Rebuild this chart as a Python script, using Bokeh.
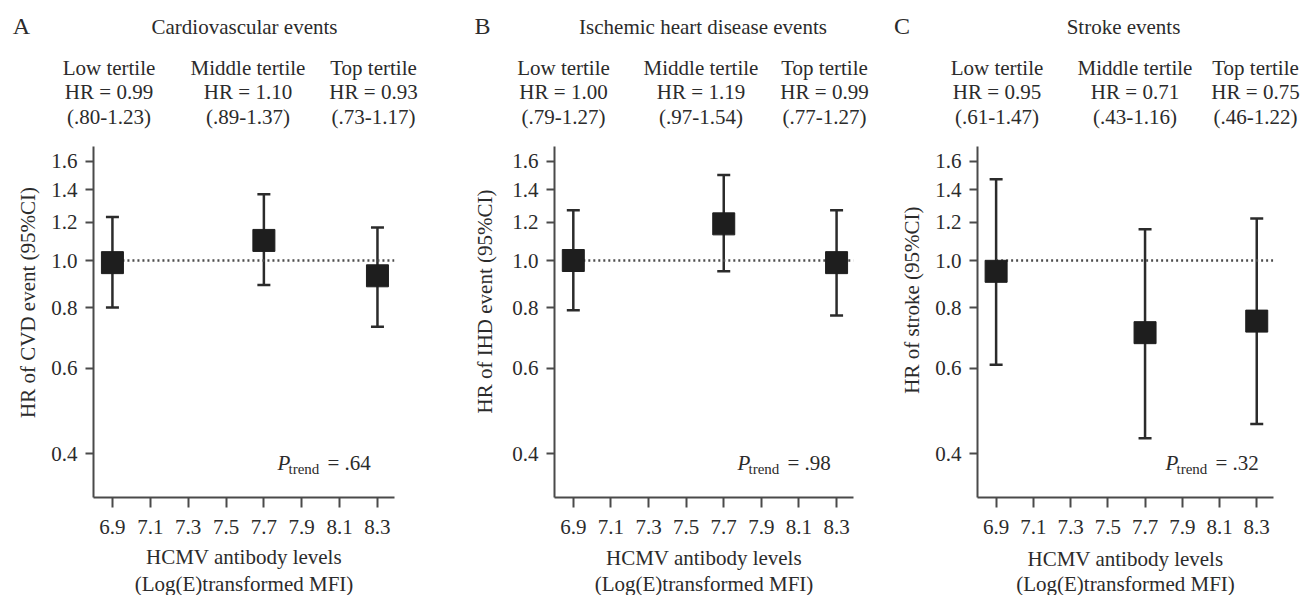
import math
from bokeh.plotting import figure
from bokeh.layouts import row, column
from bokeh.models import (ColumnDataSource, FixedTicker, PrintfTickFormatter, Label,
                          Whisker, TeeHead, Range1d)
from bokeh.embed import file_html
from bokeh.resources import INLINE

# ---------------- data ----------------
x_levels = [6.9, 7.7, 8.3]
x_ticks = [6.9, 7.1, 7.3, 7.5, 7.7, 7.9, 8.1, 8.3]
y_ticks = [0.4, 0.6, 0.8, 1.0, 1.2, 1.4, 1.6]

hr_cvd = [0.99, 1.10, 0.93]
lo_cvd = [0.80, 0.89, 0.73]
hi_cvd = [1.23, 1.37, 1.17]

hr_ihd = [1.00, 1.19, 0.99]
lo_ihd = [0.79, 0.95, 0.77]
hi_ihd = [1.27, 1.50, 1.27]

hr_stroke = [0.95, 0.71, 0.75]
lo_stroke = [0.61, 0.43, 0.46]
hi_stroke = [1.47, 1.16, 1.22]

tertile_names = ["Low tertile", "Middle tertile", "Top tertile"]
hr_text_cvd = ["HR = 0.99", "HR = 1.10", "HR = 0.93"]
ci_text_cvd = ["(.80-1.23)", "(.89-1.37)", "(.73-1.17)"]
hr_text_ihd = ["HR = 1.00", "HR = 1.19", "HR = 0.99"]
ci_text_ihd = ["(.79-1.27)", "(.97-1.54)", "(.77-1.27)"]
hr_text_stroke = ["HR = 0.95", "HR = 0.71", "HR = 0.75"]
ci_text_stroke = ["(.61-1.47)", "(.43-1.16)", "(.46-1.22)"]

panel_letters = ["A", "B", "C"]
panel_titles = ["Cardiovascular events", "Ischemic heart disease events", "Stroke events"]
y_labels = ["HR of CVD event (95%CI)", "HR of IHD event (95%CI)", "HR of stroke (95%CI)"]
x_label_lines = ["HCMV antibody levels", "(Log(E)transformed MFI)"]
p_trend_values = ["= .64", "= .98", "= .32"]

# ---------------- layout (pixel geometry) ----------------
X0, X1 = 6.80, 8.39
Y0, Y1 = 0.3247, 1.718
HEAD_H = 146          # header strip height (frame top)
MID_H = 394           # plot strip height (frame 351 + tick labels)
FOOT_H = 55           # footer strip with x-axis title
FRAME_H = 351
panel_bounds = [(0, 440), (440, 880), (880, 1305)]
ylab_w = [45, 60, 45]
frames = [(93, 394), (554, 853), (977, 1273)]
letter_x = [21, 482, 901.5]
title_x = [244, 702.5, 1123]
tert_x = [[108.5, 247.5, 373], [563, 700.5, 824], [996.5, 1134.5, 1255]]
ylab_pos = [(27, 321), (484, 320), (911, 318.5)]
xlab_y = [(556, 583), (557, 583), (558, 583)]
ptrend_x = [277, 737, 1165]
ptrend_y = 462

FONT = "Liberation Serif"
TXT = "#2b2b2b"
AX = "#4a4a4a"


def blank_fig(x0, x1, y0, y1):
    """Text-only strip whose data coordinates equal page pixels."""
    f = figure(width=int(x1 - x0), height=int(y1 - y0), output_backend="svg",
               toolbar_location=None, x_axis_location=None, y_axis_location=None,
               x_range=Range1d(x0, x1), y_range=Range1d(y1, y0),
               min_border=0, min_border_left=0, min_border_right=0,
               min_border_top=0, min_border_bottom=0)
    f.outline_line_color = None
    f.grid.visible = False
    return f


def add_label(p, x, y, text, size=21, align="center", angle=0, style="normal",
              x_offset=0, y_offset=0):
    p.add_layout(Label(x=x, y=y, text=text, text_font=FONT, text_font_size=f"{size}px",
                       text_color=TXT, text_align=align, text_baseline="middle",
                       angle=angle, text_font_style=style,
                       x_offset=x_offset, y_offset=y_offset))


series = [(hr_cvd, lo_cvd, hi_cvd, hr_text_cvd, ci_text_cvd),
          (hr_ihd, lo_ihd, hi_ihd, hr_text_ihd, ci_text_ihd),
          (hr_stroke, lo_stroke, hi_stroke, hr_text_stroke, ci_text_stroke)]

columns = []
for i, (hr, lo, hi, hr_txt, ci_txt) in enumerate(series):
    pl, pr = panel_bounds[i]

    # ---- header strip ----
    head = blank_fig(pl, pr, 0, HEAD_H)
    add_label(head, letter_x[i], 25, panel_letters[i], size=24)
    add_label(head, title_x[i], 26, panel_titles[i])
    for k in range(3):
        add_label(head, tert_x[i][k], 67.5, tertile_names[k])
        add_label(head, tert_x[i][k], 91, hr_txt[k])
        add_label(head, tert_x[i][k], 116, ci_txt[k])

    # ---- y-axis title strip ----
    yl = blank_fig(pl, pl + ylab_w[i], HEAD_H, HEAD_H + MID_H)
    add_label(yl, ylab_pos[i][0], ylab_pos[i][1], y_labels[i], angle=math.pi / 2)

    # ---- plot ----
    px0 = pl + ylab_w[i]
    w = pr - px0
    left = frames[i][0] - px0
    fw = frames[i][1] - frames[i][0]
    right = w - left - fw
    p = figure(width=w, height=MID_H, y_axis_type="log", output_backend="svg",
               toolbar_location=None, x_range=Range1d(X0, X1), y_range=Range1d(Y0, Y1),
               min_border_left=left, min_border_right=right,
               min_border_top=0, min_border_bottom=MID_H - FRAME_H)
    p.outline_line_color = None
    p.grid.visible = False

    p.xaxis.ticker = FixedTicker(ticks=x_ticks, minor_ticks=[])
    p.yaxis.ticker = FixedTicker(ticks=y_ticks, minor_ticks=[])
    p.xaxis.formatter = PrintfTickFormatter(format="%.1f")
    p.yaxis.formatter = PrintfTickFormatter(format="%.1f")
    for ax in (p.xaxis, p.yaxis):
        ax.axis_line_color = AX
        ax.axis_line_width = 2
        ax.major_tick_line_color = AX
        ax.major_tick_line_width = 2
        ax.major_tick_in = 0
        ax.minor_tick_line_color = None
        ax.major_label_text_font = FONT
        ax.major_label_text_font_size = "21px"
        ax.major_label_text_color = TXT
    p.xaxis.major_tick_out = 10
    p.yaxis.major_tick_out = 8
    p.xaxis.major_label_standoff = 12
    p.yaxis.major_label_standoff = 8

    src = ColumnDataSource(dict(x=x_levels, hr=hr, lo=lo, hi=hi))
    p.line(x=[x_levels[0], X1], y=[1.0, 1.0], line_color="#4d4d4d", line_width=2.5,
           line_dash="2 3")
    wh = Whisker(base="x", upper="hi", lower="lo", source=src, dimension="height",
                 line_color="#2b2b2b", line_width=2.5, level="underlay",
                 upper_head=TeeHead(size=13, line_color="#2b2b2b", line_width=2.5),
                 lower_head=TeeHead(size=13, line_color="#2b2b2b", line_width=2.5))
    p.add_layout(wh)
    p.scatter(x="x", y="hr", source=src, marker="square", size=22,
              fill_color="#1e1e1e", line_color="#1e1e1e")

    # P trend (inside the frame): positioned by pixel offsets from the frame's right edge
    off = ptrend_x[i] - frames[i][1]
    la, lb = math.log10(Y0), math.log10(Y1)
    yv = 10 ** (la + (HEAD_H + FRAME_H - ptrend_y) / FRAME_H * (lb - la))
    add_label(p, X1, yv, "P", align="left", style="italic", x_offset=off)
    add_label(p, X1, yv, "trend", size=15, align="left", x_offset=off + 11, y_offset=-6)
    add_label(p, X1, yv, p_trend_values[i], align="left", x_offset=off + 50)

    # ---- footer strip (x-axis title) ----
    foot = blank_fig(pl, pr, HEAD_H + MID_H, HEAD_H + MID_H + FOOT_H)
    xc = (frames[i][0] + frames[i][1]) / 2
    add_label(foot, xc, xlab_y[i][0], x_label_lines[0])
    add_label(foot, xc, xlab_y[i][1], x_label_lines[1])

    columns.append(column(head, row(yl, p, spacing=0), foot, spacing=0))

layout = row(*columns, spacing=0)
open("out.html", "w").write(file_html(layout, INLINE))
